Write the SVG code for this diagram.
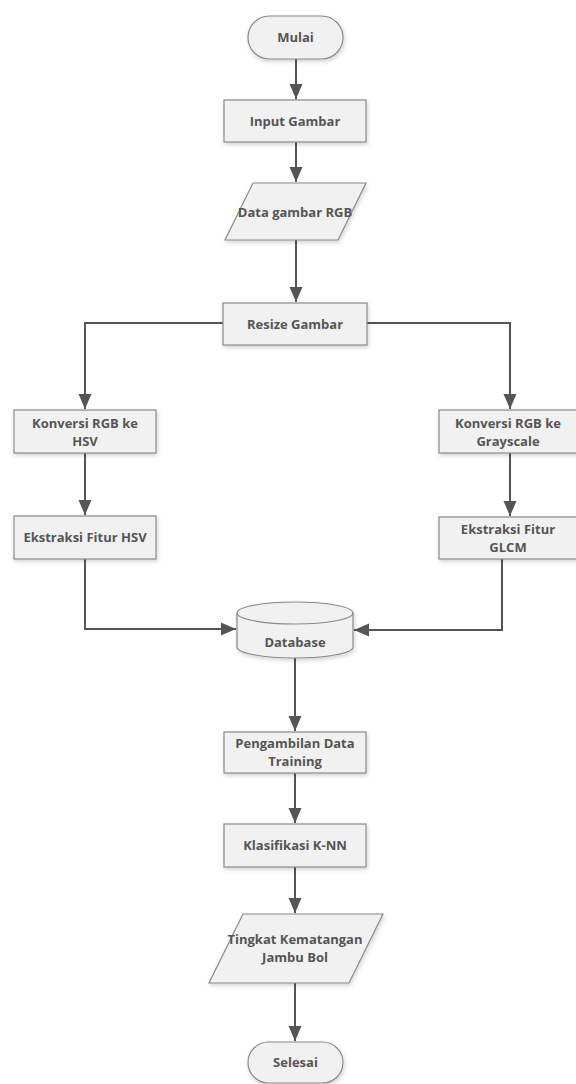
<svg xmlns="http://www.w3.org/2000/svg" width="576" height="1084" viewBox="0 0 576 1084">
<defs>
<style>
.n{fill:#f1f1f1;stroke:#8a8a8a;stroke-width:1.2;filter:url(#sh)}
.t{font-family:"Open Sans","Liberation Sans",sans-serif;font-weight:bold;font-size:13px;fill:#555;text-anchor:middle}
.c{fill:none;stroke:#555;stroke-width:2}
</style>
<filter id="sh" x="-20%" y="-20%" width="140%" height="150%">
<feDropShadow dx="1" dy="2" stdDeviation="2" flood-color="#000" flood-opacity="0.18"/>
</filter>
<marker id="a" markerUnits="userSpaceOnUse" markerWidth="16" markerHeight="16" viewBox="0 0 16 16" refX="15" refY="8" orient="auto">
<path d="M0,1.5 L15,8 L0,14.5 Z" fill="#555"/>
</marker>
</defs>
<rect width="576" height="1084" fill="#fff"/>
<g id="connectors">
<path class="c" d="M296,59 V99" marker-end="url(#a)"/>
<path class="c" d="M296,142 V182" marker-end="url(#a)"/>
<path class="c" d="M296,240 V302" marker-end="url(#a)"/>
<path class="c" d="M223,323 H85 V409" marker-end="url(#a)"/>
<path class="c" d="M367,323 H510 V409" marker-end="url(#a)"/>
<path class="c" d="M85,453 V515" marker-end="url(#a)"/>
<path class="c" d="M510,453 V516" marker-end="url(#a)"/>
<path class="c" d="M85,559 V629 H236" marker-end="url(#a)"/>
<path class="c" d="M502,559 V630 H354" marker-end="url(#a)"/>
<path class="c" d="M295,658 V731" marker-end="url(#a)"/>
<path class="c" d="M295,773 V823" marker-end="url(#a)"/>
<path class="c" d="M295,867 V913" marker-end="url(#a)"/>
<path class="c" d="M295,983 V1041" marker-end="url(#a)"/>
</g>
<g id="mulai">
<rect class="n" x="248" y="16" width="95" height="43" rx="21.5"/>
<text class="t" x="295.5" y="42">Mulai</text>
</g>
<g id="input-gambar">
<rect class="n" x="224" y="100" width="142" height="42"/>
<text class="t" x="295" y="126">Input Gambar</text>
</g>
<g id="data-gambar-rgb">
<polygon class="n" points="253,183 366,183 338,240 225,240"/>
<text class="t" x="295" y="217">Data gambar RGB</text>
</g>
<g id="resize-gambar">
<rect class="n" x="223" y="303" width="144" height="42"/>
<text class="t" x="295" y="329">Resize Gambar</text>
</g>
<g id="konversi-hsv">
<rect class="n" x="14" y="410" width="142" height="43"/>
<text class="t" x="85" y="428">Konversi RGB ke</text>
<text class="t" x="85" y="446">HSV</text>
</g>
<g id="konversi-grayscale">
<rect class="n" x="439" y="410" width="142" height="43"/>
<text class="t" x="508" y="428">Konversi RGB ke</text>
<text class="t" x="508" y="446">Grayscale</text>
</g>
<g id="ekstraksi-hsv">
<rect class="n" x="14" y="516" width="142" height="43"/>
<text class="t" x="85" y="542">Ekstraksi Fitur HSV</text>
</g>
<g id="ekstraksi-glcm">
<rect class="n" x="439" y="517" width="142" height="42"/>
<text class="t" x="508" y="534">Ekstraksi Fitur</text>
<text class="t" x="508" y="552">GLCM</text>
</g>
<g id="database">
<path class="n" d="M237,613 A58,11 0 0 1 353,613 V647 A58,11 0 0 1 237,647 Z"/>
<path d="M237,613 A58,11 0 0 0 353,613" fill="none" stroke="#8a8a8a" stroke-width="1.2"/>
<text class="t" x="295" y="647">Database</text>
</g>
<g id="pengambilan">
<rect class="n" x="224" y="732" width="142" height="41"/>
<text class="t" x="295" y="748">Pengambilan Data</text>
<text class="t" x="295" y="766">Training</text>
</g>
<g id="klasifikasi">
<rect class="n" x="224" y="824" width="142" height="43"/>
<text class="t" x="295" y="850">Klasifikasi K-NN</text>
</g>
<g id="tingkat-kematangan">
<polygon class="n" points="243,914 383,914 349,983 209,983"/>
<text class="t" x="295" y="944">Tingkat Kematangan</text>
<text class="t" x="295" y="962">Jambu Bol</text>
</g>
<g id="selesai">
<rect class="n" x="248" y="1042" width="95" height="41" rx="20.5"/>
<text class="t" x="295.5" y="1067">Selesai</text>
</g>
</svg>
